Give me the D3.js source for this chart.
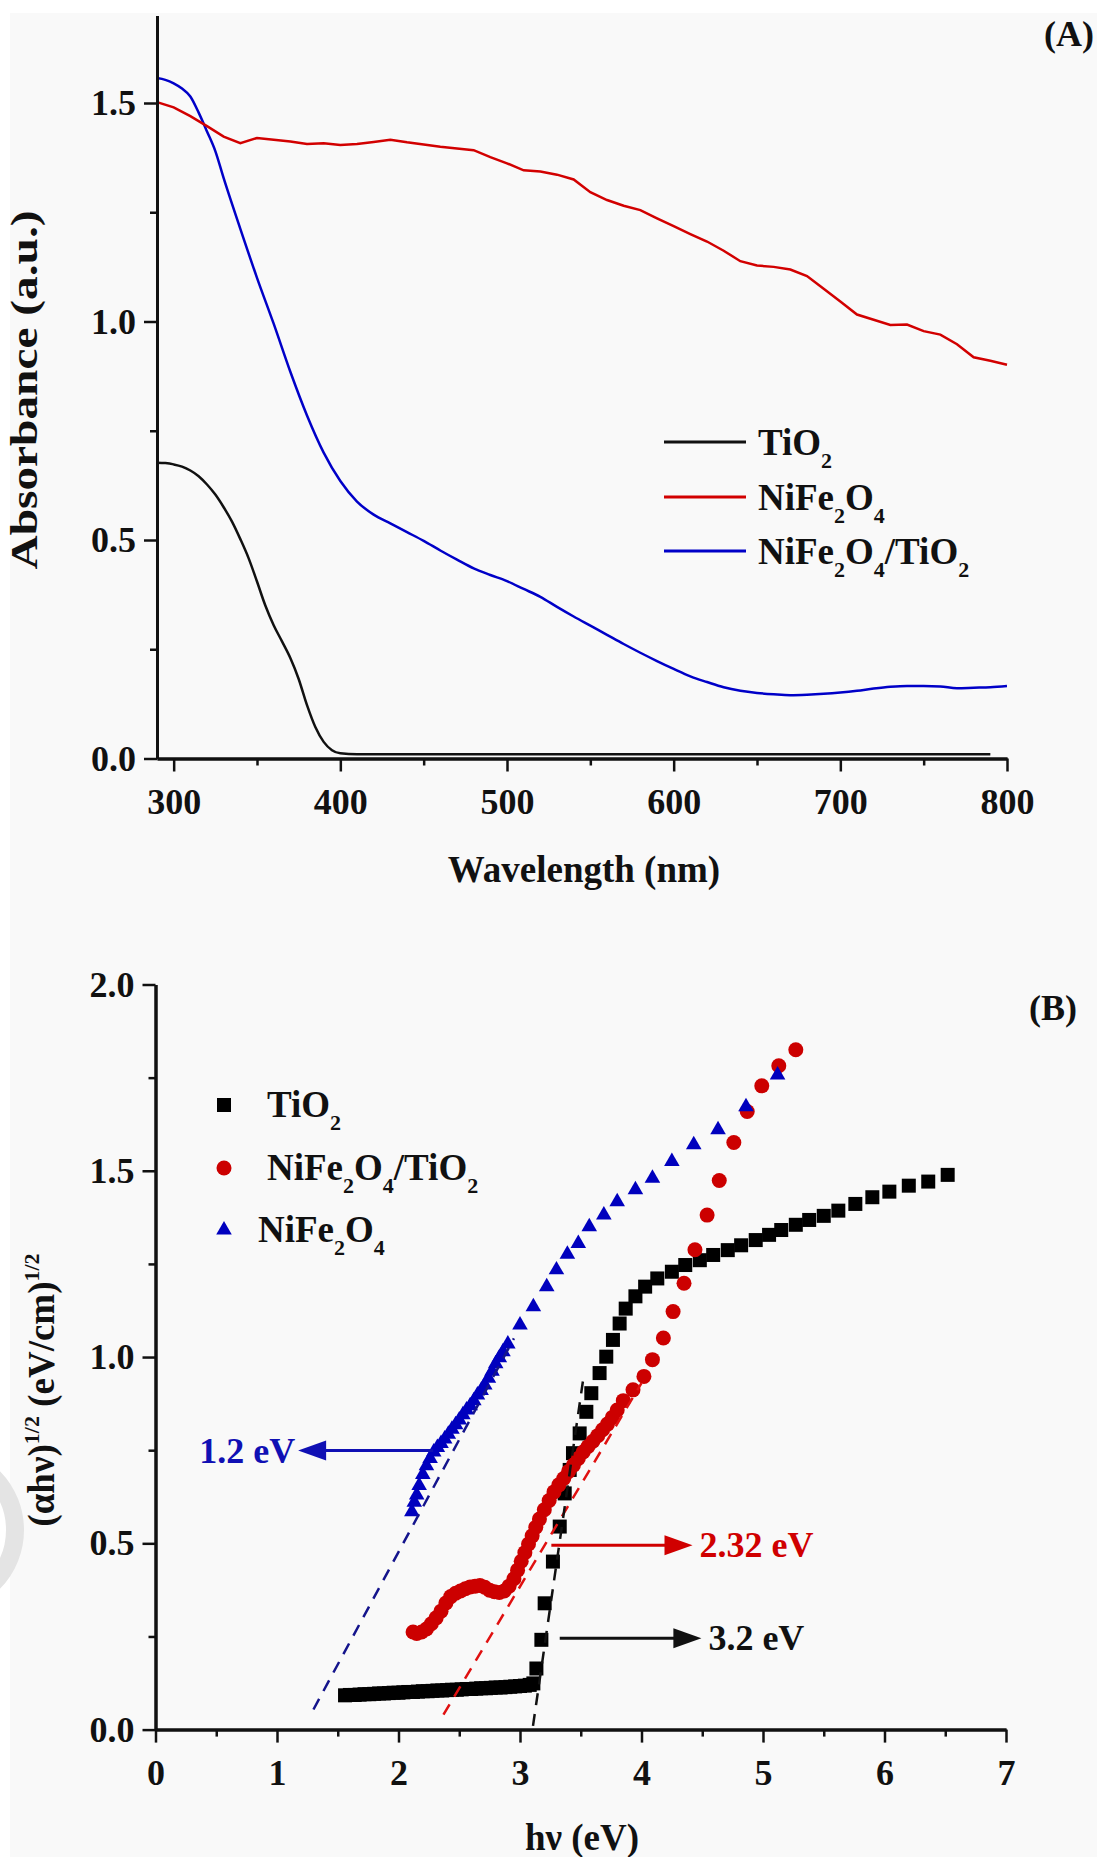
<!DOCTYPE html>
<html>
<head>
<meta charset="utf-8">
<script src="https://cdn.jsdelivr.net/npm/d3@7"></script>
<style>
body { margin: 0; background: #fff; }
svg text { font-family: "Liberation Serif", "Times New Roman", serif; font-weight: bold; }
</style>
</head>
<body>
<script>
// ---------- (A) UV-vis absorbance ----------
var wlA = [290, 300, 310, 320, 330, 340, 350, 360, 370, 380, 390, 400, 410, 420, 430, 440, 450, 460, 470, 480,
    490, 500, 510, 520, 530, 540, 550, 560, 570, 580, 590, 600, 610, 620, 630, 640, 650, 660, 670, 680,
    690, 700, 710, 720, 730, 740, 750, 760, 770, 780, 790, 800];
var absNiFe = [1.502, 1.490, 1.470, 1.447, 1.423, 1.408, 1.420, 1.416, 1.412, 1.406, 1.408, 1.404, 1.406, 1.411, 1.416, 1.410, 1.405, 1.400, 1.396, 1.392,
    1.376, 1.362, 1.346, 1.343, 1.336, 1.325, 1.296, 1.278, 1.265, 1.255, 1.236, 1.218, 1.200, 1.183, 1.162, 1.138, 1.128, 1.125, 1.119, 1.104,
    1.075, 1.046, 1.016, 1.004, 0.992, 0.993, 0.978, 0.970, 0.948, 0.918, 0.910, 0.901];
var wlComp = [290, 295, 300, 305, 310, 315, 320, 325, 330, 340, 350, 360, 370, 380, 390, 400, 410, 420, 430, 440,
    450, 460, 470, 480, 490, 500, 510, 520, 530, 540, 550, 560, 570, 580, 590, 600, 610, 620, 630, 640,
    650, 660, 670, 680, 690, 700, 710, 720, 730, 740, 750, 760, 770, 780, 790, 800];
var absComp = [1.557, 1.553, 1.545, 1.533, 1.515, 1.478, 1.435, 1.390, 1.328, 1.212, 1.100, 0.995, 0.885, 0.785, 0.700, 0.635, 0.588, 0.558, 0.538, 0.518,
    0.498, 0.476, 0.455, 0.435, 0.420, 0.406, 0.388, 0.370, 0.347, 0.325, 0.304, 0.283, 0.262, 0.242, 0.223, 0.205, 0.188, 0.175, 0.163, 0.155,
    0.150, 0.147, 0.145, 0.146, 0.148, 0.151, 0.155, 0.160, 0.164, 0.166, 0.166, 0.165, 0.161, 0.162, 0.163, 0.166];
var wlTiO2 = [290, 295, 300, 305, 310, 315, 320, 325, 330, 335, 340, 345, 350, 355, 360, 365, 370, 375, 380, 385,
    390, 395, 400, 410, 450, 500, 600, 700, 790];
var absTiO2 = [0.677, 0.676, 0.673, 0.668, 0.659, 0.646, 0.627, 0.604, 0.575, 0.542, 0.502, 0.458, 0.405, 0.350, 0.305, 0.268, 0.230, 0.182, 0.122, 0.072,
    0.038, 0.019, 0.012, 0.010, 0.010, 0.010, 0.010, 0.010, 0.010];

var xTicksA = [300, 400, 500, 600, 700, 800];
var xMinorA = [350, 450, 550, 650, 750];
var yTicksA = [0, 0.5, 1.0, 1.5];
var yMinorA = [0.25, 0.75, 1.25];
var legendA = ["TiO2", "NiFe2O4", "NiFe2O4/TiO2"];

// ---------- (B) Tauc plot ----------
var hvTiO2 = [1.56, 1.60, 1.64, 1.68, 1.72, 1.76, 1.80, 1.84, 1.88, 1.92, 1.96, 2.00, 2.04, 2.08, 2.12, 2.16, 2.20, 2.24, 2.28, 2.32,
    2.36, 2.40, 2.44, 2.48, 2.52, 2.56, 2.60, 2.64, 2.68, 2.72, 2.76, 2.80, 2.84, 2.88, 2.92, 2.96, 3.00, 3.04, 3.08, 3.11,
    3.135, 3.176, 3.203, 3.271, 3.327, 3.368, 3.409, 3.436, 3.491, 3.546, 3.587, 3.655, 3.71, 3.765, 3.82, 3.87, 3.95, 4.03, 4.13, 4.25,
    4.36, 4.48, 4.59, 4.71, 4.82, 4.94, 5.05, 5.15, 5.27, 5.38, 5.50, 5.62, 5.76, 5.90, 6.04, 6.20, 6.36, 6.52];
var tauTiO2 = [0.092, 0.093, 0.093, 0.094, 0.095, 0.095, 0.096, 0.097, 0.097, 0.098, 0.099, 0.099, 0.100, 0.101, 0.101, 0.102, 0.103, 0.103, 0.104, 0.105,
    0.105, 0.106, 0.107, 0.107, 0.108, 0.109, 0.109, 0.110, 0.111, 0.111, 0.112, 0.113, 0.113, 0.114, 0.115, 0.116, 0.117, 0.118, 0.120, 0.124,
    0.164, 0.241, 0.339, 0.451, 0.545, 0.634, 0.697, 0.742, 0.795, 0.853, 0.903, 0.957, 1.001, 1.046, 1.090, 1.130, 1.163, 1.189, 1.211, 1.229,
    1.247, 1.260, 1.274, 1.287, 1.300, 1.314, 1.328, 1.341, 1.355, 1.368, 1.379, 1.393, 1.411, 1.429, 1.444, 1.460, 1.471, 1.489];

var hvComp = [2.12, 2.15, 2.19, 2.23, 2.27, 2.31, 2.35, 2.39, 2.43, 2.47, 2.51, 2.55, 2.59, 2.63, 2.67, 2.71, 2.75, 2.79, 2.83, 2.87,
    2.91, 2.95, 2.98, 3.01, 3.04, 3.07, 3.10, 3.13, 3.16, 3.20, 3.24, 3.28, 3.32, 3.36, 3.40, 3.44, 3.48, 3.52, 3.56, 3.60,
    3.64, 3.68, 3.72, 3.76, 3.80, 3.85, 3.93, 4.02, 4.09, 4.18, 4.26, 4.35, 4.44, 4.54, 4.64, 4.76, 4.87, 4.99, 5.13, 5.27];
var tauComp = [0.262, 0.258, 0.262, 0.270, 0.284, 0.300, 0.318, 0.340, 0.357, 0.366, 0.372, 0.378, 0.383, 0.385, 0.387, 0.382, 0.374, 0.370, 0.368, 0.372,
    0.385, 0.405, 0.428, 0.452, 0.475, 0.498, 0.520, 0.543, 0.565, 0.590, 0.615, 0.638, 0.657, 0.674, 0.693, 0.710, 0.728, 0.745, 0.760, 0.774,
    0.789, 0.805, 0.820, 0.838, 0.858, 0.883, 0.912, 0.948, 0.993, 1.051, 1.122, 1.198, 1.288, 1.381, 1.474, 1.576, 1.659, 1.728, 1.782, 1.825];

var hvNiFe = [2.11, 2.13, 2.15, 2.17, 2.20, 2.23, 2.26, 2.29, 2.32, 2.35, 2.38, 2.41, 2.44, 2.47, 2.50, 2.53, 2.56, 2.59, 2.62, 2.65,
    2.68, 2.71, 2.74, 2.77, 2.80, 2.83, 2.86, 2.90, 3.00, 3.11, 3.22, 3.30, 3.39, 3.48, 3.57, 3.69, 3.80, 3.95, 4.09, 4.25,
    4.43, 4.63, 4.86, 5.12];
var tauNiFe = [0.585, 0.610, 0.630, 0.655, 0.685, 0.708, 0.728, 0.745, 0.757, 0.768, 0.780, 0.793, 0.806, 0.818, 0.831, 0.845, 0.858, 0.869, 0.883, 0.898,
    0.910, 0.925, 0.943, 0.962, 0.982, 0.998, 1.014, 1.035, 1.086, 1.135, 1.189, 1.234, 1.276, 1.305, 1.350, 1.381, 1.417, 1.449, 1.480, 1.525,
    1.570, 1.610, 1.672, 1.757];

// extrapolated tangents [hv0, y0, hv1, y1]
var fitNiFe = [1.30, 0.054, 2.95, 1.05];
var fitComp = [2.37, 0.040, 4.00, 0.930];
var fitTiO2 = [3.107, 0.010, 3.52, 0.940];
// band gap arrows [hv start, hv tip, y]
var gapNiFe = [2.285, 1.174, 0.749];
var gapComp = [3.258, 4.42, 0.495];
var gapTiO2 = [3.327, 4.493, 0.245];
var gapText = ["1.2 eV", "2.32 eV", "3.2 eV"];

var xTicksB = [0, 1, 2, 3, 4, 5, 6, 7];
var xMinorB = [0.5, 1.5, 2.5, 3.5, 4.5, 5.5, 6.5];
var yTicksB = [0, 0.5, 1.0, 1.5, 2.0];
var yMinorB = [0.25, 0.75, 1.25, 1.75];

// colours
var cBlack = "#111", cRed = "#d20000", cBlue = "#0000c8";

var svg = d3.select("body")
    .append("svg")
    .attr("width", 1097)
    .attr("height", 1857);

svg.append("rect").attr("x", 10).attr("y", 13).attr("width", 1087).attr("height", 1844).attr("fill", "#f9f9f9");
// faint watermark ring at the left edge
svg.append("circle").attr("cx", -60).attr("cy", 1530).attr("r", 75)
    .attr("fill", "none").attr("stroke", "#e4e4e4").attr("stroke-width", 18);

// write a formula like NiFe2O4 with sub/superscripts; parts: [text, -1 sup | 0 | 1 sub]
function formula(t, parts, size, shift) {
    var off = 0;
    parts.forEach(function(p) {
        var target = p[1] * shift;
        t.append("tspan")
            .attr("dy", target - off)
            .attr("font-size", p[1] ? Math.round(size * 0.6) : size)
            .text(p[0]);
        off = target;
    });
}
function chemParts(s) {
    // digits become subscripts
    return s.split(/(\d)/).filter(function(d) { return d !== ""; })
        .map(function(d) { return [d, /\d/.test(d) ? 1 : 0]; });
}

function drawAxes(g, x, y, xMaj, xMin, yMaj, yMin, xFmt, yFmt) {
    var y0 = y.range()[0], x0 = x.range()[0];
    g.append("g").attr("transform", "translate(0," + y0 + ")")
        .call(d3.axisBottom(x).tickValues(xMin).tickSize(7).tickSizeOuter(0).tickFormat(""));
    g.append("g").attr("transform", "translate(0," + y0 + ")")
        .call(d3.axisBottom(x).tickValues(xMaj).tickSize(13).tickSizeOuter(0).tickPadding(17).tickFormat(xFmt));
    g.append("g").attr("transform", "translate(" + x0 + ",0)")
        .call(d3.axisLeft(y).tickValues(yMin).tickSize(7).tickSizeOuter(0).tickFormat(""));
    g.append("g").attr("transform", "translate(" + x0 + ",0)")
        .call(d3.axisLeft(y).tickValues(yMaj).tickSize(13).tickSizeOuter(0).tickPadding(8).tickFormat(yFmt));
    g.selectAll(".domain").attr("stroke", cBlack).attr("stroke-width", 3);
    g.selectAll(".tick line").attr("stroke", cBlack).attr("stroke-width", 2.5);
    g.selectAll(".tick text").attr("font-size", 36).attr("fill", cBlack);
}

// ================= Panel A =================
var xA = d3.scaleLinear().domain([290, 800]).range([157, 1007]);
var yA = d3.scaleLinear().domain([0, 1.7]).range([758.5, 15.6]);
var gA = svg.append("g");

var lineA = d3.line()
    .x(function(d) { return xA(d[0]); })
    .y(function(d) { return yA(d[1]); });

gA.append("path").datum(d3.zip(wlTiO2, absTiO2))
    .attr("fill", "none").attr("stroke", cBlack).attr("stroke-width", 2.5)
    .attr("d", lineA.curve(d3.curveMonotoneX));
gA.append("path").datum(d3.zip(wlComp, absComp))
    .attr("fill", "none").attr("stroke", cBlue).attr("stroke-width", 2.5)
    .attr("d", lineA.curve(d3.curveMonotoneX));
gA.append("path").datum(d3.zip(wlA, absNiFe))
    .attr("fill", "none").attr("stroke", cRed).attr("stroke-width", 2.5)
    .attr("d", lineA.curve(d3.curveLinear));

drawAxes(gA, xA, yA, xTicksA, xMinorA, yTicksA, yMinorA, d3.format("d"), d3.format(".1f"));

gA.append("text").attr("x", 584).attr("y", 882).attr("text-anchor", "middle")
    .attr("font-size", 37).attr("fill", cBlack).text("Wavelength (nm)");
// the original title is stretched along its length
gA.append("text").attr("transform", "translate(37,390) scale(1,1.28) rotate(-90)").attr("text-anchor", "middle")
    .attr("font-size", 37).attr("fill", cBlack).text("Absorbance (a.u.)");
gA.append("text").attr("x", 1094).attr("y", 46).attr("text-anchor", "end")
    .attr("font-size", 36).attr("fill", cBlack).text("(A)");

// legend A
var legColA = [cBlack, cRed, cBlue];
var legYA = [442, 497, 551];
legendA.forEach(function(name, i) {
    gA.append("line").attr("x1", 664).attr("x2", 746).attr("y1", legYA[i]).attr("y2", legYA[i])
        .attr("stroke", legColA[i]).attr("stroke-width", 3);
    var t = gA.append("text").attr("x", 758).attr("y", legYA[i] + 13).attr("font-size", 37).attr("fill", cBlack);
    formula(t, chemParts(name), 37, 13);
});

// ================= Panel B =================
var xB = d3.scaleLinear().domain([0, 7]).range([155.5, 1006]);
var yB = d3.scaleLinear().domain([0, 2]).range([1729.6, 984.5]);
var gB = svg.append("g");

// markers
gB.append("g").selectAll("rect")
    .data(d3.zip(hvTiO2, tauTiO2))
    .enter().append("rect")
    .attr("x", function(d) { return xB(d[0]) - 7; })
    .attr("y", function(d) { return yB(d[1]) - 7; })
    .attr("width", 14).attr("height", 14)
    .attr("fill", "#000");

gB.append("g").selectAll("circle")
    .data(d3.zip(hvComp, tauComp))
    .enter().append("circle")
    .attr("cx", function(d) { return xB(d[0]); })
    .attr("cy", function(d) { return yB(d[1]); })
    .attr("r", 7.5)
    .attr("fill", "#cc0000");

var tri = d3.symbol().type(d3.symbolTriangle).size(105);
gB.append("g").selectAll("path")
    .data(d3.zip(hvNiFe, tauNiFe))
    .enter().append("path")
    .attr("transform", function(d) { return "translate(" + xB(d[0]) + "," + yB(d[1]) + ")"; })
    .attr("d", tri)
    .attr("fill", "#0000be");

// tangent lines
[[fitNiFe, "#14148c"], [fitComp, "#e01010"], [fitTiO2, "#111"]].forEach(function(f) {
    var p = f[0];
    gB.append("line")
        .attr("x1", xB(p[0])).attr("y1", yB(p[1]))
        .attr("x2", xB(p[2])).attr("y2", yB(p[3]))
        .attr("stroke", f[1]).attr("stroke-width", 2.5)
        .attr("stroke-dasharray", "12,9");
});

// band gap arrows
[[gapNiFe, "#1010b4"], [gapComp, "#d00000"], [gapTiO2, "#111"]].forEach(function(a, i) {
    var p = a[0], col = a[1];
    var xs = xB(p[0]), xt = xB(p[1]), yy = yB(p[2]);
    var dir = xt > xs ? 1 : -1;
    gB.append("line").attr("x1", xs).attr("x2", xt - dir * 20).attr("y1", yy).attr("y2", yy)
        .attr("stroke", col).attr("stroke-width", 3);
    gB.append("path")
        .attr("d", "M" + xt + "," + yy + "L" + (xt - dir * 28) + "," + (yy - 10) + "L" + (xt - dir * 28) + "," + (yy + 10) + "Z")
        .attr("fill", col);
    gB.append("text")
        .attr("x", dir > 0 ? xt + 7 : xt - 3)
        .attr("y", yy + 12)
        .attr("text-anchor", dir > 0 ? "start" : "end")
        .attr("font-size", 36).attr("fill", col)
        .text(gapText[i]);
});

drawAxes(gB, xB, yB, xTicksB, xMinorB, yTicksB, yMinorB, d3.format("d"), d3.format(".1f"));

gB.append("text").attr("x", 582).attr("y", 1850).attr("text-anchor", "middle")
    .attr("font-size", 37).attr("fill", cBlack).text("h\u03bd (eV)");
var ty = gB.append("text").attr("transform", "translate(54,1390) rotate(-90)").attr("text-anchor", "middle")
    .attr("font-size", 37).attr("fill", cBlack);
formula(ty, [["(\u03b1h\u03bd)", 0], ["1/2", -1], [" (eV/cm)", 0], ["1/2", -1]], 37, 15);
gB.append("text").attr("x", 1077).attr("y", 1020).attr("text-anchor", "end")
    .attr("font-size", 36).attr("fill", cBlack).text("(B)");

// legend B
var legB = [["TiO2", 1105, 267], ["NiFe2O4/TiO2", 1168, 267], ["NiFe2O4", 1230, 258]];
gB.append("rect").attr("x", 224 - 7).attr("y", legB[0][1] - 7).attr("width", 14).attr("height", 14).attr("fill", "#000");
gB.append("circle").attr("cx", 224).attr("cy", legB[1][1]).attr("r", 7.5).attr("fill", "#cc0000");
gB.append("path").attr("transform", "translate(224," + legB[2][1] + ")").attr("d", tri).attr("fill", "#0000be");
legB.forEach(function(l) {
    var t = gB.append("text").attr("x", l[2]).attr("y", l[1] + 12).attr("font-size", 37).attr("fill", cBlack);
    formula(t, chemParts(l[0]), 37, 13);
});
</script>
</body>
</html>
